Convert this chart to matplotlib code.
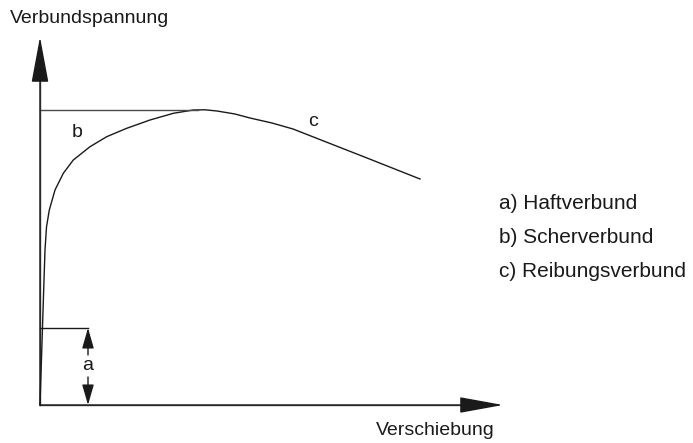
import matplotlib
matplotlib.use('Agg')
import matplotlib.pyplot as plt

plt.rcParams['font.family'] = ['Liberation Sans', 'DejaVu Sans']

# ─── Schematic bond-slip curve (units: px-like, origin at axis corner) ───────
slip = [0, 4, 4.5, 5, 6.5, 9.3, 15, 23.3, 33.3, 50, 66.7, 86.7, 110, 133.3,
        153.3, 165, 177, 195, 210, 232, 253, 327, 380]
stress = [0, 125, 140, 155, 178, 195, 215, 231.7, 245, 258.3, 268.3, 276.7,
          285, 291.7, 295, 295.2, 294, 291, 287, 282, 276, 247, 226]

peak_slip = 158
peak_stress = 295
adhesion_stress = 77      # a) Haftverbund level
adhesion_slip = 48

x_end = 463
y_end = 368

legend_labels = ['a) Haftverbund', 'b) Scherverbund', 'c) Reibungsverbund']

axis_col = '#4a4a4a'
ink = '#1a1a1a'

fig = plt.figure(figsize=(6.93, 4.43), dpi=100)
ax = fig.add_axes([0, 0, 1, 1])
ax.set_xlim(-40, 653)
ax.set_ylim(-38, 405)
ax.axis('off')

# axes with big arrow heads
ax.annotate('', xy=(0, y_end), xytext=(0, 0),
            arrowprops=dict(arrowstyle='-|>,head_length=2.9,head_width=0.54',
                            mutation_scale=10, lw=1.0, color=axis_col,
                            fc=ink, ec=ink, shrinkA=0, shrinkB=0))
ax.annotate('', xy=(x_end, 0), xytext=(0, 0),
            arrowprops=dict(arrowstyle='-|>,head_length=2.75,head_width=0.5',
                            mutation_scale=10, lw=1.0, color=axis_col,
                            fc=ink, ec=ink, shrinkA=0, shrinkB=0))
ax.plot([0, 0], [0, y_end - 30], color=axis_col, lw=1.0)
ax.plot([0, x_end - 30], [0, 0], color=axis_col, lw=1.0)

# the curve
ax.plot(slip, stress, color=ink, lw=1.0, solid_joinstyle='round')

# peak level b
ax.plot([0, peak_slip], [peak_stress, peak_stress], color=axis_col, lw=1.0)

# adhesion level a with double arrow
ax.plot([0, adhesion_slip], [adhesion_stress, adhesion_stress], color=ink, lw=1.0)
ax.annotate('', xy=(adhesion_slip, adhesion_stress),
            xytext=(adhesion_slip, adhesion_stress - 27),
            arrowprops=dict(arrowstyle='-|>,head_length=1.25,head_width=0.36',
                            mutation_scale=10, lw=1.0, color=ink,
                            shrinkA=0, shrinkB=0))
ax.annotate('', xy=(adhesion_slip, 0),
            xytext=(adhesion_slip, adhesion_stress - 49),
            arrowprops=dict(arrowstyle='-|>,head_length=1.25,head_width=0.36',
                            mutation_scale=10, lw=1.0, color=ink,
                            shrinkA=0, shrinkB=0))
ax.text(adhesion_slip, 39, 'a', ha='center', va='center', fontsize=14, color=ink)

# labels
ax.text(-30, 381.7, 'Verbundspannung', ha='left', va='baseline', fontsize=14, color=ink)
ax.text(455, -30, 'Verschiebung', ha='right', va='baseline', fontsize=14, color=ink)
ax.text(31.7, 268, 'b', ha='left', va='baseline', fontsize=14, color=ink)
ax.text(268, 279, 'c', ha='left', va='baseline', fontsize=14, color=ink)

for i, lab in enumerate(legend_labels):
    ax.text(459, 196 - 34 * i, lab, ha='left', va='baseline', fontsize=15, color=ink)

plt.savefig('out.png', dpi=100)
plt.close()
